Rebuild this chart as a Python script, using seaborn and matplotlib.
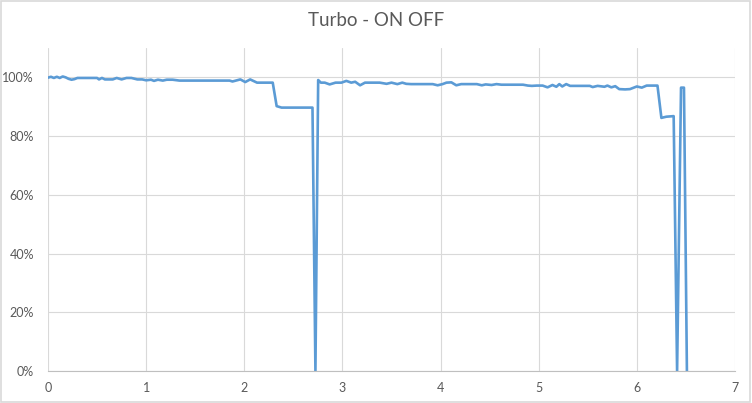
import pandas as pd
import matplotlib.pyplot as plt
import seaborn as sns
from matplotlib.ticker import PercentFormatter
from matplotlib.patches import Rectangle

# --- Data ---
time_x = [
    0.00, 0.03, 0.06, 0.09, 0.12, 0.15, 0.18, 0.21, 0.24, 0.27,
    0.30, 0.35, 0.40, 0.45, 0.50, 0.52, 0.55, 0.58, 0.62, 0.66,
    0.70, 0.75, 0.80, 0.85, 0.91, 0.96, 1.00, 1.05, 1.08, 1.12,
    1.17, 1.21, 1.27, 1.34, 1.40, 1.50, 1.60, 1.70, 1.80, 1.85,
    1.88, 1.96, 2.01, 2.06, 2.13, 2.20, 2.29, 2.33, 2.38, 2.45,
    2.55, 2.65, 2.695, 2.725, 2.753, 2.78, 2.82, 2.87, 2.93, 2.99,
    3.04, 3.09, 3.13, 3.18, 3.23, 3.30, 3.38, 3.45, 3.50, 3.56,
    3.61, 3.65, 3.70, 3.80, 3.92, 3.97, 4.02, 4.06, 4.11, 4.16,
    4.21, 4.30, 4.37, 4.42, 4.46, 4.52, 4.57, 4.62, 4.72, 4.84,
    4.89, 4.93, 4.98, 5.04, 5.09, 5.14, 5.18, 5.21, 5.24, 5.28,
    5.32, 5.42, 5.52, 5.55, 5.60, 5.67, 5.70, 5.74, 5.78, 5.82,
    5.88, 5.93, 6.00, 6.05, 6.10, 6.20, 6.21, 6.25, 6.30, 6.375,
    6.41, 6.45, 6.48, 6.51,
]
turbo_pct = [
    99.9, 100.2, 99.8, 100.2, 99.8, 100.3, 100.0, 99.5, 99.2, 99.4,
    99.8, 99.8, 99.8, 99.8, 99.8, 99.3, 99.8, 99.3, 99.3, 99.3,
    99.8, 99.3, 99.8, 99.8, 99.3, 99.3, 99.0, 99.2, 98.8, 99.2,
    98.9, 99.2, 99.2, 98.9, 98.9, 98.9, 98.9, 98.9, 98.9, 98.9,
    98.6, 99.3, 98.4, 99.3, 98.2, 98.2, 98.2, 90.2, 89.7, 89.7,
    89.7, 89.7, 89.7, 0.0, 99.1, 98.2, 98.2, 97.6, 98.2, 98.2,
    98.8, 98.2, 98.5, 97.3, 98.2, 98.2, 98.2, 97.8, 98.2, 97.7,
    98.2, 97.8, 97.7, 97.7, 97.7, 97.3, 97.7, 98.2, 98.3, 97.3,
    97.7, 97.7, 97.7, 97.3, 97.6, 97.4, 97.7, 97.5, 97.5, 97.5,
    97.2, 97.1, 97.2, 97.2, 96.6, 97.4, 96.8, 97.7, 96.9, 97.7,
    97.1, 97.1, 97.1, 96.7, 97.1, 96.8, 97.2, 96.6, 97.0, 96.0,
    95.9, 96.0, 96.9, 96.5, 97.2, 97.2, 97.2, 86.2, 86.6, 86.8,
    0.0, 96.5, 96.5, 0.0,
]

x_ticks = [0, 1, 2, 3, 4, 5, 6, 7]
y_ticks = [0.0, 0.2, 0.4, 0.6, 0.8, 1.0]

df = pd.DataFrame({"x": time_x, "turbo": [v / 100 for v in turbo_pct]})

sns.set_theme(style="white")
plt.rcParams["font.family"] = ["Lato", "DejaVu Sans"]

fig = plt.figure(figsize=(7.52, 4.03), dpi=100)
ax = fig.add_axes([0.0638, 0.0794, 0.9136, 0.8015])

sns.lineplot(data=df, x="x", y="turbo", sort=False, estimator=None,
             color="#5B9BD5", linewidth=1.9, ax=ax,
             solid_joinstyle="round", solid_capstyle="round")

ax.set_xlim(0, 7)
ax.set_ylim(0, 1.1)
ax.set_xticks(x_ticks)
ax.set_yticks(y_ticks)
ax.yaxis.set_major_formatter(PercentFormatter(1.0, decimals=0))
ax.grid(True, color="#D9D9D9", linewidth=0.8)
ax.set_axisbelow(True)
ax.set_xlabel("")
ax.set_ylabel("")
for side in ["top", "right", "left"]:
    ax.spines[side].set_visible(False)
ax.spines["bottom"].set_color("#BFBFBF")
ax.spines["bottom"].set_linewidth(0.8)
ax.tick_params(axis="both", length=0, labelsize=9, labelcolor="#595959", pad=8)
ax.tick_params(axis="y", pad=10)

fig.text(0.5, 0.95, "Turbo - ON OFF", ha="center", va="center",
         fontsize=13.5, color="#595959")

# light chart border like in Excel
fig.add_artist(Rectangle((0.001, 0.002), 0.997, 0.995, transform=fig.transFigure,
                         fill=False, edgecolor="#D9D9D9", linewidth=1.2))

fig.savefig("out.png", dpi=100)
